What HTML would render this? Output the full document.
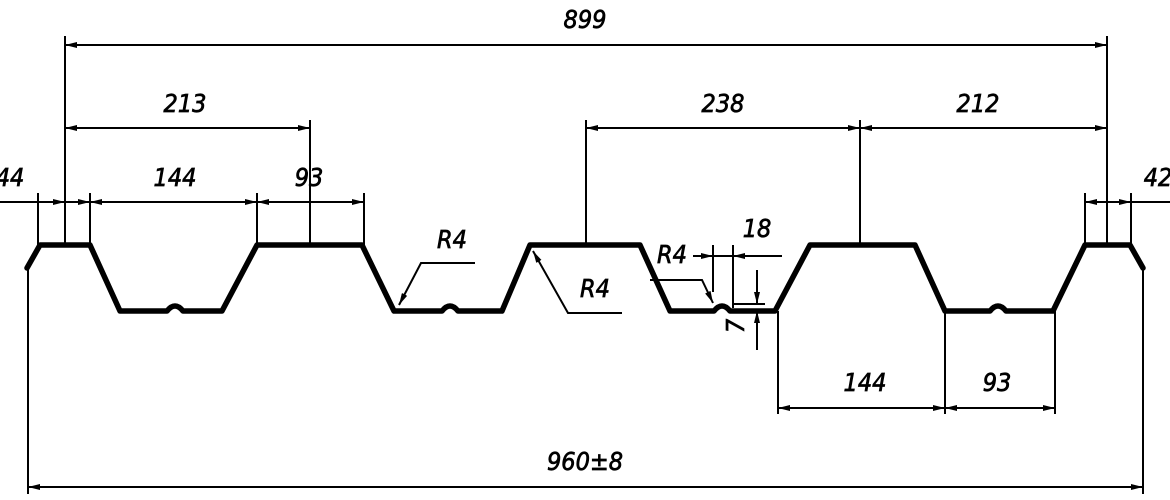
<!DOCTYPE html>
<html><head><meta charset="utf-8"><style>
html,body{margin:0;padding:0;background:#fff;}
svg{display:block}
text{font-family:"DejaVu Sans Condensed","Liberation Sans",sans-serif;font-style:italic;font-size:25px;fill:#000;stroke:#000;stroke-width:0.7;}
</style></head><body>
<svg width="1170" height="500" viewBox="0 0 1170 500" xmlns="http://www.w3.org/2000/svg">
<defs>
<marker id="a" viewBox="0 0 12 6" refX="12" refY="3" markerWidth="12" markerHeight="6" markerUnits="userSpaceOnUse" orient="auto-start-reverse">
<path d="M0,0 L12,3 L0,6 Z" fill="#000"/></marker>
</defs>
<path d="M27,268 L40,245 L90,245 L120,311 L167,311 Q175,301 183,311 L222,311 L257,245 L362,245 L394,311 L442,311 Q450,301 458,311 L502,311 L530,245 L640,245 L670,311 L714,311 Q722,301 730,311 L775,311 L810,245 L915,245 L945,311 L990,311 Q998,301 1006,311 L1053,311 L1085,245 L1130,245 L1143,268" fill="none" stroke="#000" stroke-width="5.5" stroke-linejoin="round" stroke-linecap="round"/>
<g stroke="#000" stroke-width="2" fill="none">
<line x1="65" y1="36" x2="65" y2="245"/>
<line x1="1107" y1="36" x2="1107" y2="245"/>
<line x1="310" y1="120" x2="310" y2="245"/>
<line x1="586" y1="120" x2="586" y2="245"/>
<line x1="860" y1="120" x2="860" y2="245"/>
<line x1="38" y1="193" x2="38" y2="245"/>
<line x1="90" y1="193" x2="90" y2="245"/>
<line x1="257" y1="193" x2="257" y2="245"/>
<line x1="364" y1="193" x2="364" y2="245"/>
<line x1="1085" y1="193" x2="1085" y2="245"/>
<line x1="1131" y1="193" x2="1131" y2="245"/>
<line x1="28" y1="268" x2="28" y2="494"/>
<line x1="1143" y1="268" x2="1143" y2="494"/>
<line x1="778" y1="311" x2="778" y2="414"/>
<line x1="945" y1="311" x2="945" y2="414"/>
<line x1="1055" y1="311" x2="1055" y2="414"/>
<line x1="65" y1="45" x2="1107" y2="45" marker-start="url(#a)" marker-end="url(#a)"/>
<line x1="65" y1="128" x2="310" y2="128" marker-start="url(#a)" marker-end="url(#a)"/>
<line x1="586" y1="128" x2="860" y2="128" marker-start="url(#a)" marker-end="url(#a)"/>
<line x1="860" y1="128" x2="1107" y2="128" marker-start="url(#a)" marker-end="url(#a)"/>
<line x1="0" y1="202" x2="38" y2="202"/>
<line x1="38" y1="202" x2="65" y2="202" marker-end="url(#a)"/>
<line x1="65" y1="202" x2="90" y2="202" marker-end="url(#a)"/>
<line x1="90" y1="202" x2="257" y2="202" marker-start="url(#a)" marker-end="url(#a)"/>
<line x1="257" y1="202" x2="364" y2="202" marker-start="url(#a)" marker-end="url(#a)"/>
<line x1="1085" y1="202" x2="1107" y2="202" marker-start="url(#a)"/>
<line x1="1107" y1="202" x2="1131" y2="202" marker-end="url(#a)"/>
<line x1="1131" y1="202" x2="1170" y2="202"/>
<line x1="778" y1="408" x2="945" y2="408" marker-start="url(#a)" marker-end="url(#a)"/>
<line x1="945" y1="408" x2="1055" y2="408" marker-start="url(#a)" marker-end="url(#a)"/>
<line x1="28" y1="487" x2="1143" y2="487" marker-start="url(#a)" marker-end="url(#a)"/>
<polyline points="475,263 421,263 399,305" marker-end="url(#a)"/>
<polyline points="622,313 568,313 533,251" marker-end="url(#a)"/>
<polyline points="650,280 702,280 713,303" marker-end="url(#a)"/>
<line x1="713" y1="245" x2="713" y2="292"/>
<line x1="733" y1="245" x2="733" y2="308"/>
<line x1="693" y1="256" x2="713" y2="256" marker-end="url(#a)"/>
<line x1="782" y1="256" x2="733" y2="256" marker-end="url(#a)"/>
<line x1="713" y1="256" x2="733" y2="256"/>
<line x1="733" y1="304" x2="765" y2="304"/>
<line x1="757" y1="270" x2="757" y2="304" marker-end="url(#a)"/>
<line x1="757" y1="350" x2="757" y2="311" marker-end="url(#a)"/>
</g>
<text x="585" y="28" text-anchor="middle">899</text>
<text x="185" y="112" text-anchor="middle">213</text>
<text x="723" y="112" text-anchor="middle">238</text>
<text x="978" y="112" text-anchor="middle">212</text>
<text x="10" y="186" text-anchor="middle">44</text>
<text x="175" y="186" text-anchor="middle">144</text>
<text x="309" y="186" text-anchor="middle">93</text>
<text x="1158" y="186" text-anchor="middle">42</text>
<text x="452" y="248" text-anchor="middle">R4</text>
<text x="595" y="297" text-anchor="middle">R4</text>
<text x="672" y="263" text-anchor="middle">R4</text>
<text x="757" y="237" text-anchor="middle">18</text>
<text x="0" y="0" text-anchor="middle" transform="translate(744,326) rotate(-90)">7</text>
<text x="865" y="391" text-anchor="middle">144</text>
<text x="997" y="391" text-anchor="middle">93</text>
<text x="585" y="470" text-anchor="middle">960±8</text>
</svg>
</body></html>
